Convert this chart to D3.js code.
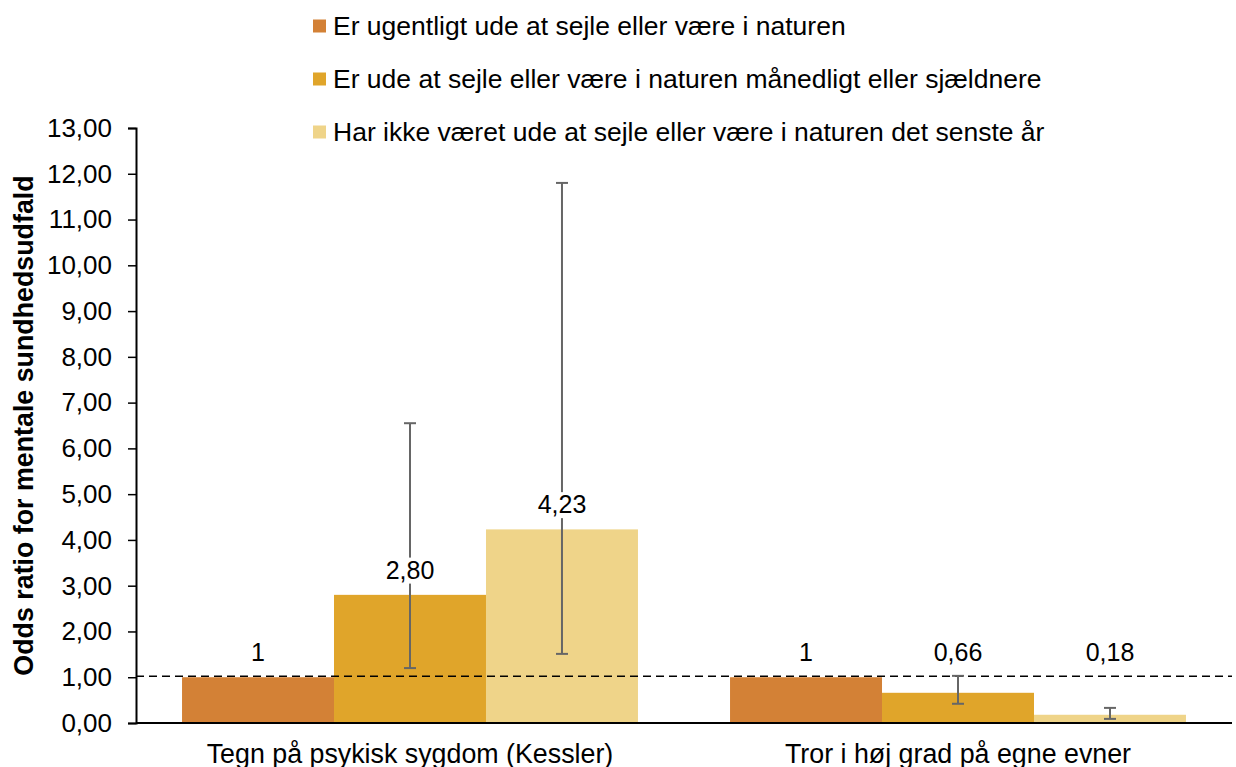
<!DOCTYPE html>
<html lang="da">
<head>
<meta charset="utf-8">
<script src="https://cdn.jsdelivr.net/npm/d3@7"></script>
<style>
  html, body { margin: 0; padding: 0; background: #fff; }
  svg { display: block; font-family: "Liberation Sans", Arial, sans-serif; }
</style>
</head>
<body>
<svg id="chart" width="1236" height="767"></svg>
<script>
// Outcome categories on the x axis
const categories = ["Tegn på psykisk sygdom (Kessler)", "Tror i høj grad på egne evner"];

// Exposure groups (legend entries)
const seriesNames = [
  "Er ugentligt ude at sejle eller være i naturen",
  "Er ude at sejle eller være i naturen månedligt eller sjældnere",
  "Har ikke været ude at sejle eller være i naturen det senste år"
];
const seriesColors = ["#D38136", "#E0A52A", "#EFD489"];

// Odds ratios per series, one value per category
const oddsRatios = [
  [1, 1],
  [2.80, 0.66],
  [4.23, 0.18]
];
// Shown labels
const valueLabels = [
  ["1", "1"],
  ["2,80", "0,66"],
  ["4,23", "0,18"]
];
// 95% confidence intervals (null = reference group)
const ciLower = [
  [null, null],
  [1.20, 0.42],
  [1.51, 0.09]
];
const ciUpper = [
  [null, null],
  [6.55, 1.03],
  [11.80, 0.33]
];

const yTicks = [0, 1, 2, 3, 4, 5, 6, 7, 8, 9, 10, 11, 12, 13];
const referenceLine = 1;

const svg = d3.select("#chart");
const margin = { left: 136, right: 4, top: 128, bottom: 44 };
const W = 1236, H = 767;
const plotRight = W - margin.right;
const plotBottom = H - margin.bottom;

const x0 = d3.scaleBand().domain(categories).range([margin.left, plotRight]).paddingInner(0.168).paddingOuter(0.084);
const x1 = d3.scaleBand().domain(d3.range(seriesNames.length)).range([0, x0.bandwidth()]).padding(0);
const y = d3.scaleLinear().domain([0, 13]).range([plotBottom, margin.top]);

const fmt = v => v.toFixed(2).replace(".", ",");

// Y axis
const yAxis = svg.append("g")
  .attr("transform", `translate(${margin.left},0)`)
  .call(d3.axisLeft(y).tickValues(yTicks).tickFormat(fmt).tickSize(8).tickPadding(16));
yAxis.select(".domain").attr("stroke", "#000").attr("stroke-width", 2);
yAxis.selectAll(".tick line").attr("stroke", "#000").attr("stroke-width", 1.5);
yAxis.selectAll(".tick text").attr("fill", "#000").style("font-size", "26px");

// Bars
const groups = svg.append("g").selectAll("g")
  .data(categories)
  .join("g")
  .attr("transform", d => `translate(${x0(d)},0)`);

groups.selectAll("rect")
  .data((c, ci) => seriesNames.map((s, si) => ({ si, v: oddsRatios[si][ci] })))
  .join("rect")
  .attr("x", d => x1(d.si))
  .attr("width", x1.bandwidth())
  .attr("y", d => y(d.v))
  .attr("height", d => y(0) - y(d.v))
  .attr("fill", d => seriesColors[d.si]);

// X axis baseline
svg.append("line")
  .attr("x1", margin.left).attr("x2", plotRight)
  .attr("y1", y(0)).attr("y2", y(0))
  .attr("stroke", "#000").attr("stroke-width", 2);

// Reference line at OR = 1
svg.append("line")
  .attr("x1", margin.left).attr("x2", plotRight)
  .attr("y1", y(referenceLine) - 1).attr("y2", y(referenceLine) - 1)
  .attr("stroke", "#000").attr("stroke-width", 1.6)
  .attr("stroke-dasharray", "8,5");

// Error bars
const errData = [];
categories.forEach((c, ci) => {
  seriesNames.forEach((s, si) => {
    if (ciLower[si][ci] != null) {
      errData.push({ cx: x0(c) + x1(si) + x1.bandwidth() / 2, lo: ciLower[si][ci], hi: ciUpper[si][ci] });
    }
  });
});
const err = svg.append("g").attr("stroke", "#666").attr("stroke-width", 2);
err.selectAll("line.v").data(errData).join("line").attr("class", "v")
  .attr("x1", d => d.cx).attr("x2", d => d.cx)
  .attr("y1", d => y(d.lo)).attr("y2", d => y(d.hi));
err.selectAll("line.t").data(errData).join("line").attr("class", "t")
  .attr("x1", d => d.cx - 6).attr("x2", d => d.cx + 6)
  .attr("y1", d => y(d.hi)).attr("y2", d => y(d.hi));
err.selectAll("line.b").data(errData).join("line").attr("class", "b")
  .attr("x1", d => d.cx - 6).attr("x2", d => d.cx + 6)
  .attr("y1", d => y(d.lo)).attr("y2", d => y(d.lo));

// Value labels, placed above the bar (never below the reference line)
const labelData = [];
categories.forEach((c, ci) => {
  seriesNames.forEach((s, si) => {
    labelData.push({
      cx: x0(c) + x1(si) + x1.bandwidth() / 2,
      ly: y(Math.max(oddsRatios[si][ci], referenceLine)) - 25,
      text: valueLabels[si][ci]
    });
  });
});
const lab = svg.append("g").selectAll("g").data(labelData).join("g")
  .attr("transform", d => `translate(${d.cx},${d.ly})`);
lab.append("text")
  .attr("text-anchor", "middle")
  .attr("dy", "0.35em")
  .style("font-size", "25px")
  .attr("fill", "#000")
  .text(d => d.text)
  .each(function () {
    const b = this.getBBox();
    d3.select(this.parentNode).insert("rect", "text")
      .attr("x", b.x - 4).attr("y", b.y + 2)
      .attr("width", b.width + 8).attr("height", b.height - 2)
      .attr("fill", "#fff");
  });

// Category labels
svg.append("g").selectAll("text").data(categories).join("text")
  .attr("x", d => x0(d) + x0.bandwidth() / 2)
  .attr("y", 763)
  .attr("text-anchor", "middle")
  .style("font-size", "26.8px")
  .attr("fill", "#000")
  .text(d => d);

// Y axis title
svg.append("text")
  .attr("transform", `translate(33,${(margin.top + plotBottom) / 2}) rotate(-90)`)
  .attr("text-anchor", "middle")
  .style("font-size", "26.8px")
  .style("font-weight", "bold")
  .attr("fill", "#000")
  .text("Odds ratio for mentale sundhedsudfald");

// Legend
const legend = svg.append("g").selectAll("g").data(seriesNames).join("g")
  .attr("transform", (d, i) => `translate(313,${26 + i * 53})`);
legend.append("rect")
  .attr("x", 0).attr("y", -6.5).attr("width", 13).attr("height", 13)
  .attr("fill", (d, i) => seriesColors[i]);
legend.append("text")
  .attr("x", 20).attr("dy", "0.35em")
  .style("font-size", "26.5px")
  .attr("fill", "#000")
  .text(d => d);
</script>
</body>
</html>
